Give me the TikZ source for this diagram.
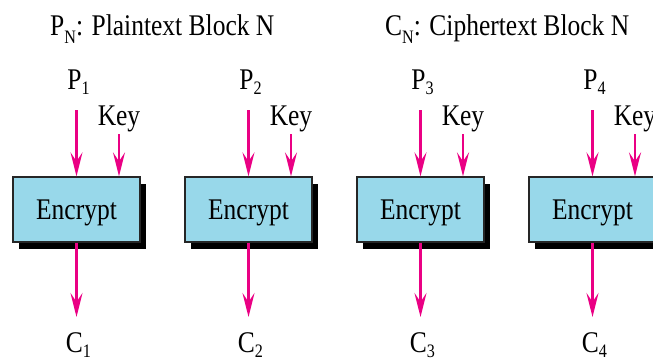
\documentclass[tikz,border=0pt]{standalone}
\usepackage{graphicx}
\usepackage{fontspec}
\newfontfamily\diagfont{Liberation Serif}
\usetikzlibrary{arrows.meta,shadows}

\definecolor{flowpink}{RGB}{234,0,132}
\definecolor{boxblue}{RGB}{152,216,234}

% condensed serif text
\newcommand\narrow[1]{\scalebox{0.85}[1]{#1}}
% lowered subscript in text size
\newcommand\lowsub[2][5pt]{\raisebox{-#1}{\fontsize{19}{20}\selectfont #2}}

\tikzset{
  lbl/.style={inner sep=0pt, anchor=base, font=\diagfont\fontsize{30}{36}\selectfont},
  title/.style={inner sep=0pt, anchor=base west, font=\diagfont\fontsize{30}{36}\selectfont},
  encbox/.style={draw=black!85, line width=1.3pt, fill=boxblue,
    minimum width=127pt, minimum height=65pt, inner sep=0pt,
    text height=20pt, text depth=0pt,
    font=\diagfont\fontsize{30}{36}\selectfont,
    drop shadow={shadow xshift=6pt, shadow yshift=-7pt, fill=black, opacity=1}},
  flow/.style={draw=flowpink, line width=2.6pt,
    -{Stealth[length=24pt, width=12pt, inset=9pt, fill=flowpink]}}
}

\begin{document}
\begin{tikzpicture}[x=1pt, y=-1pt]
  \useasboundingbox (0,0) rectangle (653,360);
  \clip (0,0) rectangle (653,360);
  \fill[white] (0,0) rectangle (653,360);

  % legend lines
  \node[title] (tp) at (50,35) {\narrow{P\lowsub[8pt]{N}: Plaintext Block N}};
  \node[title] (tc) at (385,35) {\narrow{C\lowsub[8pt]{N}: Ciphertext Block N}};

  % four independent ECB encryptions
  \foreach \i/\cx in {1/76.5, 2/248.5, 3/420.5, 4/592.5} {
    \node[encbox] (b\i) at (\cx,209.5) {\narrow{Encrypt}};
    \node[lbl] (p\i) at (\cx+2,89) {\narrow{P\lowsub{\i}}};
    \node[lbl] (k\i) at (\cx+42.5,125) {\narrow{Key}};
    \node[lbl] (c\i) at (\cx+2,352) {\narrow{C\lowsub{\i}}};
    \draw[flow] ([xshift=-2pt, yshift=-21pt]p\i.base) -- (b\i.north);
    \draw[flow] ([yshift=-9pt]k\i.base) -- ([xshift=42.5pt]b\i.north);
    \draw[flow] (b\i.south) -- ([xshift=-2pt, yshift=35pt]c\i.base);
  }
\end{tikzpicture}
\end{document}
